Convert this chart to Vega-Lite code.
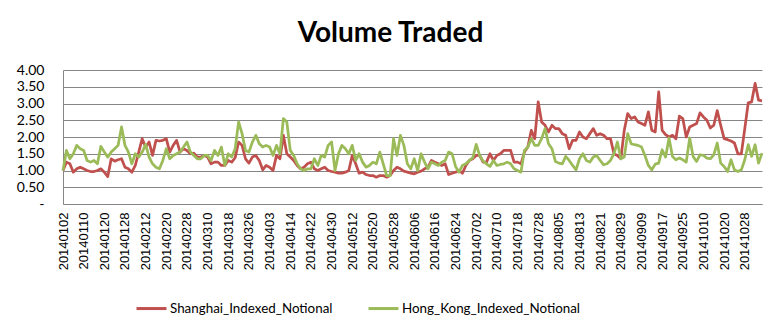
{
"$schema": "https://vega.github.io/schema/vega-lite/v6.json",
"width": 699, "height": 134,
"autosize": {"type": "none"},
"padding": {"left": 63, "top": 70, "right": 19, "bottom": 131},
"background": "white",
"title": {"text": "Volume Traded", "font": "Lato", "fontSize": 28, "fontWeight": "bold", "color": "#000000", "anchor": "middle", "frame": "group", "dx": -22, "offset": 15},
"data": {"values": [
{"date":"20140102","Shanghai_Indexed_Notional":1.00,"Hong_Kong_Indexed_Notional":1.00},
{"date":"20140103","Shanghai_Indexed_Notional":1.25,"Hong_Kong_Indexed_Notional":1.60},
{"date":"20140106","Shanghai_Indexed_Notional":1.20,"Hong_Kong_Indexed_Notional":1.35},
{"date":"20140107","Shanghai_Indexed_Notional":0.95,"Hong_Kong_Indexed_Notional":1.50},
{"date":"20140108","Shanghai_Indexed_Notional":1.05,"Hong_Kong_Indexed_Notional":1.75},
{"date":"20140109","Shanghai_Indexed_Notional":1.10,"Hong_Kong_Indexed_Notional":1.65},
{"date":"20140110","Shanghai_Indexed_Notional":1.05,"Hong_Kong_Indexed_Notional":1.60},
{"date":"20140113","Shanghai_Indexed_Notional":1.00,"Hong_Kong_Indexed_Notional":1.30},
{"date":"20140114","Shanghai_Indexed_Notional":0.97,"Hong_Kong_Indexed_Notional":1.25},
{"date":"20140115","Shanghai_Indexed_Notional":0.97,"Hong_Kong_Indexed_Notional":1.30},
{"date":"20140116","Shanghai_Indexed_Notional":1.00,"Hong_Kong_Indexed_Notional":1.20},
{"date":"20140117","Shanghai_Indexed_Notional":1.05,"Hong_Kong_Indexed_Notional":1.72},
{"date":"20140120","Shanghai_Indexed_Notional":0.95,"Hong_Kong_Indexed_Notional":1.55},
{"date":"20140121","Shanghai_Indexed_Notional":0.82,"Hong_Kong_Indexed_Notional":1.40},
{"date":"20140122","Shanghai_Indexed_Notional":1.35,"Hong_Kong_Indexed_Notional":1.55},
{"date":"20140123","Shanghai_Indexed_Notional":1.28,"Hong_Kong_Indexed_Notional":1.65},
{"date":"20140124","Shanghai_Indexed_Notional":1.32,"Hong_Kong_Indexed_Notional":1.75},
{"date":"20140127","Shanghai_Indexed_Notional":1.35,"Hong_Kong_Indexed_Notional":2.30},
{"date":"20140128","Shanghai_Indexed_Notional":1.10,"Hong_Kong_Indexed_Notional":1.75},
{"date":"20140129","Shanghai_Indexed_Notional":1.05,"Hong_Kong_Indexed_Notional":1.55},
{"date":"20140130","Shanghai_Indexed_Notional":0.95,"Hong_Kong_Indexed_Notional":1.20},
{"date":"20140207","Shanghai_Indexed_Notional":1.15,"Hong_Kong_Indexed_Notional":1.50},
{"date":"20140210","Shanghai_Indexed_Notional":1.55,"Hong_Kong_Indexed_Notional":1.40},
{"date":"20140211","Shanghai_Indexed_Notional":1.95,"Hong_Kong_Indexed_Notional":1.55},
{"date":"20140212","Shanghai_Indexed_Notional":1.70,"Hong_Kong_Indexed_Notional":1.78},
{"date":"20140213","Shanghai_Indexed_Notional":1.85,"Hong_Kong_Indexed_Notional":1.40},
{"date":"20140214","Shanghai_Indexed_Notional":1.45,"Hong_Kong_Indexed_Notional":1.20},
{"date":"20140217","Shanghai_Indexed_Notional":1.90,"Hong_Kong_Indexed_Notional":1.10},
{"date":"20140218","Shanghai_Indexed_Notional":1.88,"Hong_Kong_Indexed_Notional":1.05},
{"date":"20140219","Shanghai_Indexed_Notional":1.90,"Hong_Kong_Indexed_Notional":1.30},
{"date":"20140220","Shanghai_Indexed_Notional":1.95,"Hong_Kong_Indexed_Notional":1.65},
{"date":"20140221","Shanghai_Indexed_Notional":1.55,"Hong_Kong_Indexed_Notional":1.35},
{"date":"20140224","Shanghai_Indexed_Notional":1.75,"Hong_Kong_Indexed_Notional":1.45},
{"date":"20140225","Shanghai_Indexed_Notional":1.90,"Hong_Kong_Indexed_Notional":1.50},
{"date":"20140226","Shanghai_Indexed_Notional":1.55,"Hong_Kong_Indexed_Notional":1.55},
{"date":"20140227","Shanghai_Indexed_Notional":1.65,"Hong_Kong_Indexed_Notional":1.70},
{"date":"20140228","Shanghai_Indexed_Notional":1.60,"Hong_Kong_Indexed_Notional":1.85},
{"date":"20140303","Shanghai_Indexed_Notional":1.50,"Hong_Kong_Indexed_Notional":1.55},
{"date":"20140304","Shanghai_Indexed_Notional":1.52,"Hong_Kong_Indexed_Notional":1.45},
{"date":"20140305","Shanghai_Indexed_Notional":1.40,"Hong_Kong_Indexed_Notional":1.35},
{"date":"20140306","Shanghai_Indexed_Notional":1.40,"Hong_Kong_Indexed_Notional":1.35},
{"date":"20140307","Shanghai_Indexed_Notional":1.45,"Hong_Kong_Indexed_Notional":1.45},
{"date":"20140310","Shanghai_Indexed_Notional":1.40,"Hong_Kong_Indexed_Notional":1.45},
{"date":"20140311","Shanghai_Indexed_Notional":1.20,"Hong_Kong_Indexed_Notional":1.30},
{"date":"20140312","Shanghai_Indexed_Notional":1.25,"Hong_Kong_Indexed_Notional":1.60},
{"date":"20140313","Shanghai_Indexed_Notional":1.25,"Hong_Kong_Indexed_Notional":1.45},
{"date":"20140314","Shanghai_Indexed_Notional":1.15,"Hong_Kong_Indexed_Notional":1.70},
{"date":"20140317","Shanghai_Indexed_Notional":1.15,"Hong_Kong_Indexed_Notional":1.15},
{"date":"20140318","Shanghai_Indexed_Notional":1.30,"Hong_Kong_Indexed_Notional":1.50},
{"date":"20140319","Shanghai_Indexed_Notional":1.25,"Hong_Kong_Indexed_Notional":1.40},
{"date":"20140320","Shanghai_Indexed_Notional":1.38,"Hong_Kong_Indexed_Notional":1.65},
{"date":"20140321","Shanghai_Indexed_Notional":1.85,"Hong_Kong_Indexed_Notional":2.45},
{"date":"20140324","Shanghai_Indexed_Notional":1.75,"Hong_Kong_Indexed_Notional":2.10},
{"date":"20140325","Shanghai_Indexed_Notional":1.35,"Hong_Kong_Indexed_Notional":1.60},
{"date":"20140326","Shanghai_Indexed_Notional":1.22,"Hong_Kong_Indexed_Notional":1.55},
{"date":"20140327","Shanghai_Indexed_Notional":1.40,"Hong_Kong_Indexed_Notional":1.85},
{"date":"20140328","Shanghai_Indexed_Notional":1.45,"Hong_Kong_Indexed_Notional":2.05},
{"date":"20140331","Shanghai_Indexed_Notional":1.30,"Hong_Kong_Indexed_Notional":1.80},
{"date":"20140401","Shanghai_Indexed_Notional":1.02,"Hong_Kong_Indexed_Notional":1.70},
{"date":"20140402","Shanghai_Indexed_Notional":1.15,"Hong_Kong_Indexed_Notional":1.75},
{"date":"20140403","Shanghai_Indexed_Notional":1.10,"Hong_Kong_Indexed_Notional":1.70},
{"date":"20140404","Shanghai_Indexed_Notional":1.00,"Hong_Kong_Indexed_Notional":1.45},
{"date":"20140408","Shanghai_Indexed_Notional":1.45,"Hong_Kong_Indexed_Notional":1.75},
{"date":"20140409","Shanghai_Indexed_Notional":1.35,"Hong_Kong_Indexed_Notional":1.50},
{"date":"20140410","Shanghai_Indexed_Notional":2.05,"Hong_Kong_Indexed_Notional":2.55},
{"date":"20140411","Shanghai_Indexed_Notional":1.50,"Hong_Kong_Indexed_Notional":2.45},
{"date":"20140414","Shanghai_Indexed_Notional":1.40,"Hong_Kong_Indexed_Notional":1.60},
{"date":"20140415","Shanghai_Indexed_Notional":1.30,"Hong_Kong_Indexed_Notional":1.45},
{"date":"20140416","Shanghai_Indexed_Notional":1.15,"Hong_Kong_Indexed_Notional":1.20},
{"date":"20140417","Shanghai_Indexed_Notional":1.05,"Hong_Kong_Indexed_Notional":1.05},
{"date":"20140418","Shanghai_Indexed_Notional":1.10,"Hong_Kong_Indexed_Notional":1.00},
{"date":"20140421","Shanghai_Indexed_Notional":1.20,"Hong_Kong_Indexed_Notional":1.05},
{"date":"20140422","Shanghai_Indexed_Notional":1.25,"Hong_Kong_Indexed_Notional":1.05},
{"date":"20140423","Shanghai_Indexed_Notional":1.05,"Hong_Kong_Indexed_Notional":1.35},
{"date":"20140424","Shanghai_Indexed_Notional":1.00,"Hong_Kong_Indexed_Notional":1.15},
{"date":"20140425","Shanghai_Indexed_Notional":1.05,"Hong_Kong_Indexed_Notional":1.45},
{"date":"20140428","Shanghai_Indexed_Notional":1.10,"Hong_Kong_Indexed_Notional":1.40},
{"date":"20140429","Shanghai_Indexed_Notional":1.00,"Hong_Kong_Indexed_Notional":1.75},
{"date":"20140430","Shanghai_Indexed_Notional":0.97,"Hong_Kong_Indexed_Notional":1.85},
{"date":"20140505","Shanghai_Indexed_Notional":0.95,"Hong_Kong_Indexed_Notional":1.00},
{"date":"20140506","Shanghai_Indexed_Notional":0.92,"Hong_Kong_Indexed_Notional":1.50},
{"date":"20140507","Shanghai_Indexed_Notional":0.92,"Hong_Kong_Indexed_Notional":1.75},
{"date":"20140508","Shanghai_Indexed_Notional":0.95,"Hong_Kong_Indexed_Notional":1.65},
{"date":"20140509","Shanghai_Indexed_Notional":1.00,"Hong_Kong_Indexed_Notional":1.50},
{"date":"20140512","Shanghai_Indexed_Notional":1.45,"Hong_Kong_Indexed_Notional":1.75},
{"date":"20140513","Shanghai_Indexed_Notional":1.20,"Hong_Kong_Indexed_Notional":1.30},
{"date":"20140514","Shanghai_Indexed_Notional":0.92,"Hong_Kong_Indexed_Notional":1.50},
{"date":"20140515","Shanghai_Indexed_Notional":0.95,"Hong_Kong_Indexed_Notional":1.25},
{"date":"20140516","Shanghai_Indexed_Notional":0.88,"Hong_Kong_Indexed_Notional":1.10},
{"date":"20140519","Shanghai_Indexed_Notional":0.85,"Hong_Kong_Indexed_Notional":1.15},
{"date":"20140520","Shanghai_Indexed_Notional":0.85,"Hong_Kong_Indexed_Notional":1.25},
{"date":"20140521","Shanghai_Indexed_Notional":0.80,"Hong_Kong_Indexed_Notional":1.20},
{"date":"20140522","Shanghai_Indexed_Notional":0.85,"Hong_Kong_Indexed_Notional":1.55},
{"date":"20140523","Shanghai_Indexed_Notional":0.85,"Hong_Kong_Indexed_Notional":1.20},
{"date":"20140526","Shanghai_Indexed_Notional":0.80,"Hong_Kong_Indexed_Notional":0.85},
{"date":"20140527","Shanghai_Indexed_Notional":0.85,"Hong_Kong_Indexed_Notional":0.85},
{"date":"20140528","Shanghai_Indexed_Notional":1.00,"Hong_Kong_Indexed_Notional":1.95},
{"date":"20140529","Shanghai_Indexed_Notional":1.10,"Hong_Kong_Indexed_Notional":1.45},
{"date":"20140530","Shanghai_Indexed_Notional":1.05,"Hong_Kong_Indexed_Notional":2.05},
{"date":"20140603","Shanghai_Indexed_Notional":0.98,"Hong_Kong_Indexed_Notional":1.75},
{"date":"20140604","Shanghai_Indexed_Notional":0.95,"Hong_Kong_Indexed_Notional":1.20},
{"date":"20140605","Shanghai_Indexed_Notional":0.92,"Hong_Kong_Indexed_Notional":1.05},
{"date":"20140606","Shanghai_Indexed_Notional":0.90,"Hong_Kong_Indexed_Notional":1.35},
{"date":"20140609","Shanghai_Indexed_Notional":0.95,"Hong_Kong_Indexed_Notional":1.00},
{"date":"20140610","Shanghai_Indexed_Notional":0.98,"Hong_Kong_Indexed_Notional":1.50},
{"date":"20140611","Shanghai_Indexed_Notional":1.05,"Hong_Kong_Indexed_Notional":1.25},
{"date":"20140612","Shanghai_Indexed_Notional":1.10,"Hong_Kong_Indexed_Notional":1.05},
{"date":"20140613","Shanghai_Indexed_Notional":1.30,"Hong_Kong_Indexed_Notional":1.25},
{"date":"20140616","Shanghai_Indexed_Notional":1.25,"Hong_Kong_Indexed_Notional":1.20},
{"date":"20140617","Shanghai_Indexed_Notional":1.20,"Hong_Kong_Indexed_Notional":1.15},
{"date":"20140618","Shanghai_Indexed_Notional":1.15,"Hong_Kong_Indexed_Notional":1.25},
{"date":"20140619","Shanghai_Indexed_Notional":1.20,"Hong_Kong_Indexed_Notional":1.30},
{"date":"20140620","Shanghai_Indexed_Notional":0.88,"Hong_Kong_Indexed_Notional":1.55},
{"date":"20140623","Shanghai_Indexed_Notional":0.92,"Hong_Kong_Indexed_Notional":1.50},
{"date":"20140624","Shanghai_Indexed_Notional":0.95,"Hong_Kong_Indexed_Notional":1.12},
{"date":"20140625","Shanghai_Indexed_Notional":1.00,"Hong_Kong_Indexed_Notional":0.95},
{"date":"20140626","Shanghai_Indexed_Notional":0.92,"Hong_Kong_Indexed_Notional":1.15},
{"date":"20140627","Shanghai_Indexed_Notional":1.15,"Hong_Kong_Indexed_Notional":1.20},
{"date":"20140630","Shanghai_Indexed_Notional":1.30,"Hong_Kong_Indexed_Notional":1.30},
{"date":"20140701","Shanghai_Indexed_Notional":1.35,"Hong_Kong_Indexed_Notional":1.38},
{"date":"20140702","Shanghai_Indexed_Notional":1.45,"Hong_Kong_Indexed_Notional":1.78},
{"date":"20140703","Shanghai_Indexed_Notional":1.45,"Hong_Kong_Indexed_Notional":1.45},
{"date":"20140704","Shanghai_Indexed_Notional":1.25,"Hong_Kong_Indexed_Notional":1.28},
{"date":"20140707","Shanghai_Indexed_Notional":1.25,"Hong_Kong_Indexed_Notional":1.20},
{"date":"20140708","Shanghai_Indexed_Notional":1.50,"Hong_Kong_Indexed_Notional":1.12},
{"date":"20140709","Shanghai_Indexed_Notional":1.30,"Hong_Kong_Indexed_Notional":1.30},
{"date":"20140710","Shanghai_Indexed_Notional":1.45,"Hong_Kong_Indexed_Notional":1.15},
{"date":"20140711","Shanghai_Indexed_Notional":1.50,"Hong_Kong_Indexed_Notional":1.18},
{"date":"20140714","Shanghai_Indexed_Notional":1.60,"Hong_Kong_Indexed_Notional":1.20},
{"date":"20140715","Shanghai_Indexed_Notional":1.60,"Hong_Kong_Indexed_Notional":1.25},
{"date":"20140716","Shanghai_Indexed_Notional":1.60,"Hong_Kong_Indexed_Notional":1.20},
{"date":"20140717","Shanghai_Indexed_Notional":1.25,"Hong_Kong_Indexed_Notional":1.05},
{"date":"20140718","Shanghai_Indexed_Notional":1.25,"Hong_Kong_Indexed_Notional":1.00},
{"date":"20140721","Shanghai_Indexed_Notional":1.20,"Hong_Kong_Indexed_Notional":0.95},
{"date":"20140722","Shanghai_Indexed_Notional":1.55,"Hong_Kong_Indexed_Notional":1.60},
{"date":"20140723","Shanghai_Indexed_Notional":1.70,"Hong_Kong_Indexed_Notional":1.70},
{"date":"20140724","Shanghai_Indexed_Notional":2.20,"Hong_Kong_Indexed_Notional":1.95},
{"date":"20140725","Shanghai_Indexed_Notional":1.95,"Hong_Kong_Indexed_Notional":1.75},
{"date":"20140728","Shanghai_Indexed_Notional":3.05,"Hong_Kong_Indexed_Notional":1.75},
{"date":"20140729","Shanghai_Indexed_Notional":2.45,"Hong_Kong_Indexed_Notional":1.95},
{"date":"20140730","Shanghai_Indexed_Notional":2.35,"Hong_Kong_Indexed_Notional":2.25},
{"date":"20140731","Shanghai_Indexed_Notional":2.15,"Hong_Kong_Indexed_Notional":1.80},
{"date":"20140801","Shanghai_Indexed_Notional":2.35,"Hong_Kong_Indexed_Notional":1.65},
{"date":"20140804","Shanghai_Indexed_Notional":2.25,"Hong_Kong_Indexed_Notional":1.27},
{"date":"20140805","Shanghai_Indexed_Notional":2.25,"Hong_Kong_Indexed_Notional":1.22},
{"date":"20140806","Shanghai_Indexed_Notional":2.10,"Hong_Kong_Indexed_Notional":1.20},
{"date":"20140807","Shanghai_Indexed_Notional":2.05,"Hong_Kong_Indexed_Notional":1.42},
{"date":"20140808","Shanghai_Indexed_Notional":1.65,"Hong_Kong_Indexed_Notional":1.30},
{"date":"20140811","Shanghai_Indexed_Notional":1.90,"Hong_Kong_Indexed_Notional":1.15},
{"date":"20140812","Shanghai_Indexed_Notional":1.90,"Hong_Kong_Indexed_Notional":1.02},
{"date":"20140813","Shanghai_Indexed_Notional":2.15,"Hong_Kong_Indexed_Notional":1.35},
{"date":"20140814","Shanghai_Indexed_Notional":2.00,"Hong_Kong_Indexed_Notional":1.50},
{"date":"20140815","Shanghai_Indexed_Notional":1.95,"Hong_Kong_Indexed_Notional":1.30},
{"date":"20140818","Shanghai_Indexed_Notional":2.10,"Hong_Kong_Indexed_Notional":1.25},
{"date":"20140819","Shanghai_Indexed_Notional":2.25,"Hong_Kong_Indexed_Notional":1.40},
{"date":"20140820","Shanghai_Indexed_Notional":2.05,"Hong_Kong_Indexed_Notional":1.45},
{"date":"20140821","Shanghai_Indexed_Notional":2.10,"Hong_Kong_Indexed_Notional":1.30},
{"date":"20140822","Shanghai_Indexed_Notional":2.05,"Hong_Kong_Indexed_Notional":1.17},
{"date":"20140825","Shanghai_Indexed_Notional":1.95,"Hong_Kong_Indexed_Notional":1.20},
{"date":"20140826","Shanghai_Indexed_Notional":1.95,"Hong_Kong_Indexed_Notional":1.30},
{"date":"20140827","Shanghai_Indexed_Notional":1.50,"Hong_Kong_Indexed_Notional":1.50},
{"date":"20140828","Shanghai_Indexed_Notional":1.45,"Hong_Kong_Indexed_Notional":1.85},
{"date":"20140829","Shanghai_Indexed_Notional":1.35,"Hong_Kong_Indexed_Notional":1.35},
{"date":"20140901","Shanghai_Indexed_Notional":2.20,"Hong_Kong_Indexed_Notional":1.40},
{"date":"20140902","Shanghai_Indexed_Notional":2.70,"Hong_Kong_Indexed_Notional":2.10},
{"date":"20140903","Shanghai_Indexed_Notional":2.55,"Hong_Kong_Indexed_Notional":1.80},
{"date":"20140904","Shanghai_Indexed_Notional":2.60,"Hong_Kong_Indexed_Notional":1.77},
{"date":"20140905","Shanghai_Indexed_Notional":2.45,"Hong_Kong_Indexed_Notional":1.75},
{"date":"20140909","Shanghai_Indexed_Notional":2.40,"Hong_Kong_Indexed_Notional":1.70},
{"date":"20140910","Shanghai_Indexed_Notional":2.35,"Hong_Kong_Indexed_Notional":1.45},
{"date":"20140911","Shanghai_Indexed_Notional":2.75,"Hong_Kong_Indexed_Notional":1.15},
{"date":"20140912","Shanghai_Indexed_Notional":2.20,"Hong_Kong_Indexed_Notional":1.02},
{"date":"20140915","Shanghai_Indexed_Notional":2.15,"Hong_Kong_Indexed_Notional":1.19},
{"date":"20140916","Shanghai_Indexed_Notional":3.35,"Hong_Kong_Indexed_Notional":1.22},
{"date":"20140917","Shanghai_Indexed_Notional":2.20,"Hong_Kong_Indexed_Notional":1.62},
{"date":"20140918","Shanghai_Indexed_Notional":2.07,"Hong_Kong_Indexed_Notional":1.40},
{"date":"20140919","Shanghai_Indexed_Notional":2.00,"Hong_Kong_Indexed_Notional":1.97},
{"date":"20140922","Shanghai_Indexed_Notional":2.05,"Hong_Kong_Indexed_Notional":1.42},
{"date":"20140923","Shanghai_Indexed_Notional":1.95,"Hong_Kong_Indexed_Notional":1.32},
{"date":"20140924","Shanghai_Indexed_Notional":2.62,"Hong_Kong_Indexed_Notional":1.37},
{"date":"20140925","Shanghai_Indexed_Notional":2.55,"Hong_Kong_Indexed_Notional":1.32},
{"date":"20140926","Shanghai_Indexed_Notional":2.00,"Hong_Kong_Indexed_Notional":1.25},
{"date":"20140929","Shanghai_Indexed_Notional":2.30,"Hong_Kong_Indexed_Notional":1.97},
{"date":"20140930","Shanghai_Indexed_Notional":2.35,"Hong_Kong_Indexed_Notional":1.42},
{"date":"20141008","Shanghai_Indexed_Notional":2.40,"Hong_Kong_Indexed_Notional":1.27},
{"date":"20141009","Shanghai_Indexed_Notional":2.72,"Hong_Kong_Indexed_Notional":1.47},
{"date":"20141010","Shanghai_Indexed_Notional":2.60,"Hong_Kong_Indexed_Notional":1.45},
{"date":"20141013","Shanghai_Indexed_Notional":2.50,"Hong_Kong_Indexed_Notional":1.37},
{"date":"20141014","Shanghai_Indexed_Notional":2.27,"Hong_Kong_Indexed_Notional":1.35},
{"date":"20141015","Shanghai_Indexed_Notional":2.35,"Hong_Kong_Indexed_Notional":1.47},
{"date":"20141016","Shanghai_Indexed_Notional":2.79,"Hong_Kong_Indexed_Notional":1.82},
{"date":"20141017","Shanghai_Indexed_Notional":2.35,"Hong_Kong_Indexed_Notional":1.22},
{"date":"20141020","Shanghai_Indexed_Notional":1.95,"Hong_Kong_Indexed_Notional":1.12},
{"date":"20141021","Shanghai_Indexed_Notional":1.92,"Hong_Kong_Indexed_Notional":0.97},
{"date":"20141022","Shanghai_Indexed_Notional":1.88,"Hong_Kong_Indexed_Notional":1.32},
{"date":"20141023","Shanghai_Indexed_Notional":1.82,"Hong_Kong_Indexed_Notional":1.02},
{"date":"20141024","Shanghai_Indexed_Notional":1.50,"Hong_Kong_Indexed_Notional":0.97},
{"date":"20141027","Shanghai_Indexed_Notional":1.50,"Hong_Kong_Indexed_Notional":1.02},
{"date":"20141028","Shanghai_Indexed_Notional":2.25,"Hong_Kong_Indexed_Notional":1.32},
{"date":"20141029","Shanghai_Indexed_Notional":3.02,"Hong_Kong_Indexed_Notional":1.77},
{"date":"20141030","Shanghai_Indexed_Notional":3.05,"Hong_Kong_Indexed_Notional":1.42},
{"date":"20141031","Shanghai_Indexed_Notional":3.60,"Hong_Kong_Indexed_Notional":1.77},
{"date":"20141103","Shanghai_Indexed_Notional":3.10,"Hong_Kong_Indexed_Notional":1.22},
{"date":"20141104","Shanghai_Indexed_Notional":3.08,"Hong_Kong_Indexed_Notional":1.52}
]},
"transform": [{"fold": ["Shanghai_Indexed_Notional", "Hong_Kong_Indexed_Notional"], "as": ["series", "value"]}],
"mark": {"type": "line", "strokeWidth": 2.75, "strokeJoin": "round"},
"encoding": {
  "x": {"field": "date", "type": "ordinal", "sort": null,
        "scale": {"type": "point", "padding": 0},
        "axis": {"title": null, "values": ["20140102","20140110","20140120","20140128","20140212","20140220","20140228","20140310","20140318","20140326","20140403","20140414","20140422","20140430","20140512","20140520","20140528","20140606","20140616","20140624","20140702","20140710","20140718","20140728","20140805","20140813","20140821","20140829","20140909","20140917","20140925","20141010","20141020","20141028"],
                 "labelAngle": -90, "labelFont": "Liberation Sans", "labelFontSize": 13, "labelColor": "#000000", "labelPadding": 8, "ticks": false, "grid": false, "domain": true, "domainColor": "#868686", "domainWidth": 1, "labelOverlap": false}},
  "y": {"field": "value", "type": "quantitative",
        "scale": {"domain": [0, 4], "nice": false, "zero": true},
        "axis": {"title": null, "values": [0, 0.5, 1, 1.5, 2, 2.5, 3, 3.5, 4],
                 "labelExpr": "datum.value == 0 ? '-\u00a0\u00a0\u00a0' : format(datum.value, '.2f')",
                 "labelFont": "Lato", "labelFontSize": 14, "labelColor": "#000000", "labelPadding": 19,
                 "grid": true, "gridColor": "#868686", "gridWidth": 1, "ticks": false, "domain": true, "domainColor": "#868686"}},
  "color": {"field": "series", "type": "nominal",
            "sort": ["Shanghai_Indexed_Notional", "Hong_Kong_Indexed_Notional"],
            "scale": {"domain": ["Shanghai_Indexed_Notional", "Hong_Kong_Indexed_Notional"], "range": ["#C0504D", "#9BBB59"]},
            "legend": {"title": null, "orient": "none", "legendX": 72, "legendY": 222, "direction": "horizontal",
                       "symbolType": "stroke", "symbolSize": 900, "symbolStrokeWidth": 3, "labelLimit": 400,
                       "labelFont": "Lato", "labelFontSize": 13.4, "labelColor": "#000000", "labelOffset": 2, "columnPadding": 29}}
},
"config": {"view": {"stroke": null}}
}
